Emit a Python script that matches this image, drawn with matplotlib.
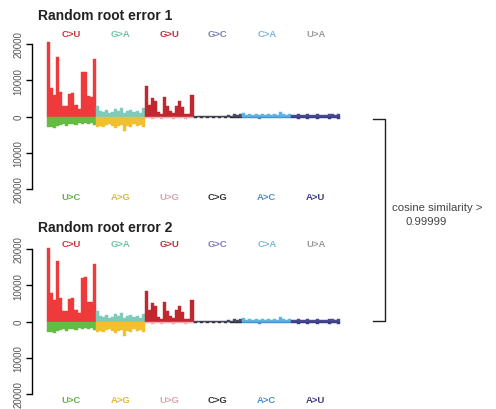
import matplotlib
matplotlib.use("Agg")
import matplotlib.pyplot as plt
import matplotlib.transforms as mtransforms
import numpy as np

plt.rcParams['font.family'] = ['Liberation Sans', 'DejaVu Sans']

# mutation classes drawn above and below the zero line
upper_types = ["C>U", "G>A", "G>U", "G>C", "C>A", "U>A"]
lower_types = ["U>C", "A>G", "U>G", "C>G", "A>C", "A>U"]

upper_label_colors = ["#cc3340", "#6cc4a8", "#b8323a", "#7d7bbd", "#7ab8d8", "#9a9a9a"]
lower_label_colors = ["#6aae4a", "#e0b840", "#d8a4ac", "#333333", "#4a8fd0", "#3c3c84"]
upper_bar_colors = ["#ee3a3a", "#7fcbbb", "#c2262e", "#4a4a6a", "#5fb4e0", "#4a4a90"]
lower_bar_colors = ["#66bb44", "#f0c030", "#f4a8b0", "#333333", "#4a90d8", "#3a3a88"]

# counts per context (16 contexts per class), replicate 1
rep1_upper = [
    [20500, 8000, 5800, 16500, 6700, 3000, 2800, 6300, 6500, 3200, 2200, 12200, 12400, 5600, 5500, 16000],
    [3000, 1400, 1200, 1800, 1000, 1300, 2000, 1500, 2300, 1100, 1400, 1800, 1300, 1500, 1100, 2300],
    [8300, 3200, 5200, 4200, 1200, 800, 5400, 2800, 1500, 900, 3000, 4300, 2500, 800, 700, 5800],
    [250, 220, 200, 250, 220, 200, 230, 210, 250, 220, 200, 300, 250, 600, 350, 700],
    [900, 500, 600, 400, 700, 500, 800, 450, 600, 500, 700, 400, 1200, 600, 500, 800],
    [400, 500, 600, 350, 500, 700, 400, 500, 600, 450, 500, 400, 600, 700, 500, 800],
]
rep1_lower = [
    [2800, 3000, 3300, 2700, 2400, 2200, 2600, 2100, 2000, 2300, 1900, 2100, 1800, 2000, 1700, 2300],
    [3000, 2600, 2900, 2300, 2200, 2600, 3100, 2500, 2300, 4000, 2600, 2900, 2200, 2500, 2300, 3000],
    [500, 400, 700, 300, 400, 600, 300, 500, 400, 800, 300, 500, 400, 600, 300, 400],
    [300, 250, 300, 250, 300, 250, 300, 250, 300, 250, 300, 250, 300, 400, 300, 450],
    [400, 300, 500, 300, 400, 600, 300, 400, 500, 300, 400, 300, 500, 400, 300, 500],
    [500, 400, 600, 500, 400, 700, 500, 400, 600, 500, 400, 500, 600, 400, 500, 700],
]

# replicate 2
rep2_upper = [
    [20400, 8000, 5900, 16600, 6600, 3000, 2800, 6200, 6500, 3200, 2300, 12100, 12400, 5500, 5500, 16000],
    [3000, 1400, 1300, 1800, 1000, 1300, 2000, 1500, 2300, 1100, 1400, 1800, 1300, 1500, 1100, 2200],
    [8300, 3300, 5200, 4200, 1200, 800, 5400, 2800, 1500, 900, 3100, 4200, 2500, 800, 700, 5800],
    [250, 220, 200, 250, 220, 200, 230, 210, 250, 220, 200, 300, 250, 600, 350, 700],
    [900, 500, 600, 400, 700, 500, 800, 450, 600, 500, 700, 400, 1200, 600, 500, 800],
    [400, 500, 600, 350, 500, 700, 400, 500, 600, 450, 500, 400, 600, 700, 500, 800],
]
rep2_lower = [
    [2800, 3000, 3300, 2700, 2400, 2200, 2600, 2100, 2000, 2300, 1900, 2100, 1800, 2000, 1700, 2300],
    [3000, 2600, 2900, 2300, 2200, 2600, 3100, 2500, 2300, 4000, 2600, 2900, 2200, 2500, 2300, 3000],
    [500, 400, 700, 300, 400, 600, 300, 500, 400, 800, 300, 500, 400, 600, 300, 400],
    [300, 250, 300, 250, 300, 250, 300, 250, 300, 250, 300, 250, 300, 400, 300, 450],
    [400, 300, 500, 300, 400, 600, 300, 400, 500, 300, 400, 300, 500, 400, 300, 500],
    [500, 400, 600, 500, 400, 700, 500, 400, 600, 500, 400, 500, 600, 400, 500, 700],
]

titles = ["Random root error 1", "Random root error 2"]
ytick_values = [-20000, -10000, 0, 10000, 20000]
ytick_labels = ["20000", "10000", "0", "10000", "20000"]

W, H = 496, 410
fig = plt.figure(figsize=(W / 100, H / 100), dpi=100)


def px_axes(x0, y0, x1, y1):
    return fig.add_axes([x0 / W, 1 - y1 / H, (x1 - x0) / W, (y1 - y0) / H])


def draw_panel(ax, upper, lower, up_label_y, low_label_y):
    n_ctx = len(upper[0])
    for i in range(len(upper_types)):
        x = np.arange(n_ctx) + i * n_ctx + 0.5
        ax.bar(x, upper[i], width=1.0, color=upper_bar_colors[i],
               edgecolor=upper_bar_colors[i], linewidth=0.3, clip_on=False)
        ax.bar(x, -np.array(lower[i]), width=1.0, color=lower_bar_colors[i],
               edgecolor=lower_bar_colors[i], linewidth=0.3, clip_on=False)
    total = n_ctx * len(upper_types)
    ax.set_xlim(0, total)
    ax.set_ylim(-20000, 20000)
    for s in ["top", "right", "bottom"]:
        ax.spines[s].set_visible(False)
    ax.spines["left"].set_position(("outward", 11))
    ax.spines["left"].set_bounds(-20000, 20000)
    ax.spines["left"].set_linewidth(1.0)
    ax.set_xticks([])
    ax.set_yticks(ytick_values)
    ax.set_yticklabels(ytick_labels, rotation=90, va="center", fontsize=7, color="#555555")
    ax.tick_params(axis="y", length=4, width=1.0, pad=2)
    trans = mtransforms.blended_transform_factory(ax.transData, ax.transAxes)
    for i in range(len(upper_types)):
        cx = i * n_ctx + n_ctx / 2
        ax.text(cx, up_label_y, upper_types[i], transform=trans, ha="center", va="center",
                fontsize=6.8, fontweight="bold", color=upper_label_colors[i])
        ax.text(cx, low_label_y, lower_types[i], transform=trans, ha="center", va="center",
                fontsize=6.8, fontweight="bold", color=lower_label_colors[i])


ax1 = px_axes(47, 45, 340, 190)
draw_panel(ax1, rep1_upper, rep1_lower, 1.072, -0.05)
ax2 = px_axes(47, 250, 340, 395)
draw_panel(ax2, rep2_upper, rep2_lower, 1.038, -0.035)

fig.text(38 / W, 1 - 16 / H, titles[0], fontsize=10, fontweight="bold", ha="left", va="center", color="#222222")
fig.text(38 / W, 1 - 228 / H, titles[1], fontsize=10, fontweight="bold", ha="left", va="center", color="#222222")

# bracket linking the two panels
bx, btop, bbot = 385, 120, 322
fig.add_artist(plt.Line2D([373 / W, bx / W, bx / W, 373 / W],
                          [1 - btop / H, 1 - btop / H, 1 - bbot / H, 1 - bbot / H],
                          color="#222222", linewidth=1.0))
fig.text(392 / W, 1 - 208 / H, "cosine similarity >", fontsize=8.2, color="#444444", ha="left", va="center")
fig.text(405 / W, 1 - 222 / H, "0.99999", fontsize=8.2, color="#444444", ha="left", va="center")

fig.savefig("out.png", dpi=100, facecolor="white")
